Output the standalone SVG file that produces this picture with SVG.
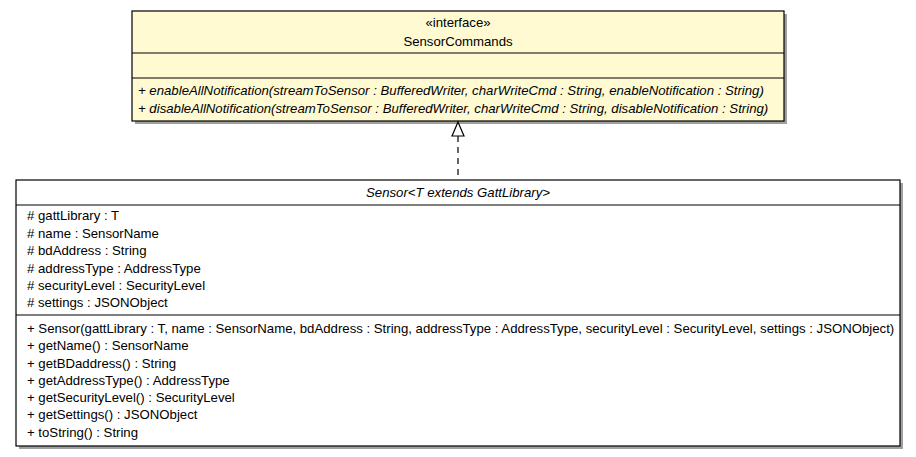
<svg xmlns="http://www.w3.org/2000/svg" width="916" height="457" viewBox="0 0 916 457">
<style>
.shadow{fill:#a0a0a0;stroke:none}
.box{stroke:#000;stroke-width:1.2}
.iface{fill:#fffad2}
.cls{fill:#ffffff}
.sep{stroke:#000;stroke-width:1.2}
text{font-family:"Liberation Sans",Arial,sans-serif;font-size:13.2px;fill:#000}
.c{text-anchor:middle}
.i{font-style:italic}
</style>
<rect width="916" height="457" fill="#fff"/>
<g id="SensorCommands">
<rect class="shadow" x="135" y="14" width="652" height="110"/>
<rect class="box iface" x="132" y="11" width="652" height="110"/>
<line class="sep" x1="132" y1="53" x2="784" y2="53"/>
<line class="sep" x1="132" y1="78" x2="784" y2="78"/>
<text class="c" x="458" y="27">«interface»</text>
<text class="c" x="458" y="46">SensorCommands</text>
<text class="i" x="138" y="95">+ enableAllNotification(streamToSensor : BufferedWriter, charWriteCmd : String, enableNotification : String)</text>
<text class="i" x="138" y="113">+ disableAllNotification(streamToSensor : BufferedWriter, charWriteCmd : String, disableNotification : String)</text>
</g>
<g id="Sensor">
<rect class="shadow" x="19" y="183" width="884" height="266"/>
<rect class="box cls" x="16" y="180" width="884" height="266"/>
<line class="sep" x1="16" y1="205" x2="900" y2="205"/>
<line class="sep" x1="16" y1="315" x2="900" y2="315"/>
<text class="c i" x="458" y="197">Sensor&lt;T extends GattLibrary&gt;</text>
<text x="27" y="220"># gattLibrary : T</text>
<text x="27" y="238"># name : SensorName</text>
<text x="27" y="255"># bdAddress : String</text>
<text x="27" y="273"># addressType : AddressType</text>
<text x="27" y="290"># securityLevel : SecurityLevel</text>
<text x="27" y="307"># settings : JSONObject</text>
<text x="27" y="333">+ Sensor(gattLibrary : T, name : SensorName, bdAddress : String, addressType : AddressType, securityLevel : SecurityLevel, settings : JSONObject)</text>
<text x="27" y="350">+ getName() : SensorName</text>
<text x="27" y="368">+ getBDaddress() : String</text>
<text x="27" y="385">+ getAddressType() : AddressType</text>
<text x="27" y="402">+ getSecurityLevel() : SecurityLevel</text>
<text x="27" y="419">+ getSettings() : JSONObject</text>
<text x="27" y="437">+ toString() : String</text>
</g>
<g id="connectors">
<line x1="458" y1="136" x2="458" y2="180" stroke="#000" stroke-width="1.2" stroke-dasharray="6,5"/>
<polygon points="458,122 452,136 464,136" fill="#fff" stroke="#000" stroke-width="1.2"/>
</g>
</svg>
